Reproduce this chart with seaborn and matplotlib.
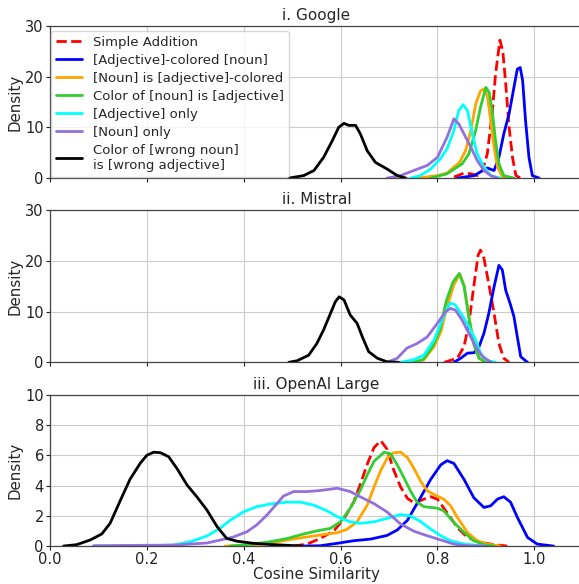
import matplotlib
matplotlib.use("Agg")
import matplotlib.pyplot as plt
import seaborn as sns

sns.set_theme(style="ticks")
plt.rcParams["font.family"] = ["DejaVu Sans"]

LABELS = [
    "Simple Addition",
    "[Adjective]-colored [noun]",
    "[Noun] is [adjective]-colored",
    "Color of [noun] is [adjective]",
    "[Adjective] only",
    "[Noun] only",
    "Color of [wrong noun]\nis [wrong adjective]",
]
COLORS = ["red", "blue", "orange", "limegreen", "cyan", "mediumpurple", "black"]
STYLES = ["--", "-", "-", "-", "-", "-", "-"]

# i. Google
g_add_x = [0.834, 0.855, 0.869, 0.882, 0.893, 0.903, 0.913, 0.920, 0.929, 0.935, 0.941, 0.948, 0.955, 0.962, 0.972]
g_add_y = [0.2, 1.0, 0.85, 0.5, 1.5, 4.8, 12.7, 20.5, 27.2, 25.0, 18.6, 10.0, 4.1, 0.5, 0.0]
g_adjcol_x = [0.841, 0.876, 0.890, 0.903, 0.917, 0.927, 0.937, 0.948, 0.958, 0.965, 0.971, 0.976, 0.982, 0.989, 0.996, 1.010]
g_adjcol_y = [0.0, 0.5, 1.3, 2.0, 1.5, 4.1, 8.7, 12.7, 17.9, 21.5, 21.8, 19.2, 11.3, 4.1, 0.5, 0.0]
g_nouncol_x = [0.758, 0.800, 0.820, 0.834, 0.845, 0.858, 0.869, 0.879, 0.889, 0.896, 0.903, 0.910, 0.917, 0.924, 0.934, 0.940]
g_nouncol_y = [0.0, 0.5, 1.0, 2.2, 3.0, 5.4, 9.4, 14.6, 17.2, 17.6, 16.3, 11.3, 6.1, 2.2, 0.3, 0.0]
g_colorof_x = [0.786, 0.820, 0.841, 0.851, 0.865, 0.879, 0.889, 0.900, 0.907, 0.913, 0.920, 0.927, 0.937, 0.958]
g_colorof_y = [0.0, 0.85, 2.2, 2.8, 4.8, 9.4, 14.0, 17.9, 16.9, 13.3, 7.4, 2.8, 0.5, 0.0]
g_adj_x = [0.744, 0.765, 0.786, 0.806, 0.820, 0.834, 0.844, 0.853, 0.862, 0.872, 0.882, 0.896, 0.910, 0.930]
g_adj_y = [0.0, 0.5, 1.8, 3.8, 5.8, 9.4, 13.3, 14.5, 13.3, 8.7, 4.8, 2.2, 0.5, 0.0]
g_noun_x = [0.696, 0.724, 0.751, 0.779, 0.800, 0.820, 0.834, 0.844, 0.855, 0.869, 0.882, 0.896, 0.910, 0.924]
g_noun_y = [0.0, 0.5, 1.5, 2.5, 4.1, 8.1, 11.7, 10.7, 8.7, 6.1, 3.5, 1.5, 0.5, 0.0]
g_wrong_x = [0.493, 0.524, 0.545, 0.565, 0.583, 0.596, 0.607, 0.617, 0.631, 0.641, 0.655, 0.672, 0.696, 0.717, 0.735]
g_wrong_y = [0.0, 0.5, 1.5, 4.1, 7.4, 10.0, 10.8, 10.4, 10.4, 8.7, 5.4, 3.1, 1.8, 0.5, 0.0]

# ii. Mistral
m_add_x = [0.814, 0.841, 0.855, 0.865, 0.875, 0.884, 0.889, 0.896, 0.906, 0.917, 0.927, 0.937, 0.948]
m_add_y = [0.0, 0.8, 3.1, 7.7, 14.9, 21.1, 22.1, 20.5, 15.5, 9.6, 3.7, 0.8, 0.0]
m_adjcol_x = [0.834, 0.848, 0.862, 0.876, 0.886, 0.896, 0.906, 0.917, 0.927, 0.934, 0.941, 0.951, 0.958, 0.965, 0.972, 0.986]
m_adjcol_y = [0.0, 0.8, 1.8, 1.9, 3.1, 5.7, 9.6, 14.9, 19.1, 18.2, 14.2, 11.3, 9.0, 5.0, 1.1, 0.0]
m_nouncol_x = [0.751, 0.772, 0.793, 0.807, 0.820, 0.834, 0.846, 0.855, 0.865, 0.875, 0.886, 0.900]
m_nouncol_y = [0.0, 0.5, 3.1, 6.0, 11.0, 15.3, 17.4, 15.2, 9.0, 3.7, 0.8, 0.0]
m_colorof_x = [0.748, 0.770, 0.790, 0.805, 0.818, 0.832, 0.845, 0.855, 0.865, 0.875, 0.886, 0.900]
m_colorof_y = [0.0, 0.5, 3.1, 6.4, 12.0, 15.8, 17.5, 15.0, 8.8, 3.6, 0.8, 0.0]
m_adj_x = [0.724, 0.751, 0.772, 0.793, 0.807, 0.820, 0.827, 0.837, 0.851, 0.865, 0.879, 0.889, 0.903, 0.920]
m_adj_y = [0.0, 0.5, 1.4, 4.4, 7.7, 10.6, 11.7, 11.3, 9.3, 7.0, 4.4, 1.8, 0.3, 0.0]
m_noun_x = [0.696, 0.717, 0.737, 0.758, 0.779, 0.800, 0.817, 0.827, 0.837, 0.851, 0.865, 0.879, 0.893, 0.910]
m_noun_y = [0.0, 0.8, 2.8, 3.7, 5.0, 7.7, 10.0, 10.6, 10.3, 8.3, 5.7, 3.1, 1.1, 0.1]
m_wrong_x = [0.493, 0.510, 0.534, 0.551, 0.565, 0.579, 0.589, 0.597, 0.607, 0.620, 0.634, 0.645, 0.658, 0.676, 0.696, 0.720]
m_wrong_y = [0.0, 0.3, 1.4, 3.7, 6.4, 9.6, 11.9, 12.9, 12.3, 9.3, 7.7, 5.0, 2.1, 0.8, 0.1, 0.0]

# iii. OpenAI Large
o_add_x = [0.503, 0.531, 0.558, 0.586, 0.607, 0.627, 0.641, 0.655, 0.669, 0.683, 0.696, 0.710, 0.724, 0.738,
           0.752, 0.772, 0.786, 0.800, 0.820, 0.841, 0.862, 0.890, 0.917, 0.944]
o_add_y = [0.0, 0.13, 0.5, 1.0, 1.8, 2.9, 4.1, 5.4, 6.5, 6.96, 6.4, 5.0, 3.9, 3.15,
           2.84, 3.1, 3.26, 3.1, 2.2, 1.23, 0.57, 0.24, 0.09, 0.0]
o_adjcol_x = [0.517, 0.558, 0.593, 0.627, 0.662, 0.696, 0.717, 0.738, 0.765, 0.786, 0.807, 0.820, 0.834,
              0.855, 0.875, 0.896, 0.910, 0.924, 0.937, 0.951, 0.965, 0.986, 1.006, 1.034, 1.040]
o_adjcol_y = [0.0, 0.02, 0.18, 0.35, 0.46, 0.7, 1.06, 1.7, 3.2, 4.4, 5.37, 5.64, 5.46,
              4.4, 3.2, 2.55, 2.66, 3.1, 3.26, 2.9, 1.9, 0.57, 0.13, 0.02, 0.0]
o_nouncol_x = [0.362, 0.420, 0.455, 0.490, 0.524, 0.558, 0.593, 0.613, 0.634, 0.655, 0.669, 0.683, 0.696, 0.710,
               0.724, 0.738, 0.752, 0.765, 0.779, 0.793, 0.813, 0.827, 0.841, 0.862, 0.882, 0.903, 0.930]
o_nouncol_y = [0.0, 0.07, 0.18, 0.4, 0.57, 0.73, 0.88, 1.1, 1.6, 2.7, 3.9, 5.0, 5.8, 6.17,
               6.2, 5.85, 5.1, 4.3, 3.65, 3.4, 3.1, 2.67, 1.9, 0.9, 0.35, 0.13, 0.0]
o_colorof_x = [0.372, 0.420, 0.455, 0.490, 0.524, 0.551, 0.579, 0.600, 0.620, 0.641, 0.655, 0.669, 0.690,
               0.703, 0.717, 0.731, 0.745, 0.758, 0.772, 0.800, 0.813, 0.834, 0.855, 0.875, 0.896, 0.917]
o_colorof_y = [0.0, 0.13, 0.29, 0.5, 0.8, 1.0, 1.17, 1.6, 2.5, 3.7, 4.7, 5.6, 6.2,
               6.1, 5.37, 4.5, 3.6, 2.9, 2.6, 2.5, 2.33, 1.56, 0.9, 0.35, 0.09, 0.0]
o_adj_x = [0.090, 0.200, 0.255, 0.290, 0.324, 0.352, 0.372, 0.400, 0.427, 0.455, 0.490, 0.517, 0.545, 0.572,
           0.593, 0.620, 0.641, 0.669, 0.696, 0.724, 0.745, 0.765, 0.786, 0.807, 0.827, 0.855, 0.890, 0.900]
o_adj_y = [0.0, 0.02, 0.07, 0.29, 0.66, 1.2, 1.7, 2.27, 2.6, 2.78, 2.9, 2.9, 2.7, 2.33,
           1.94, 1.6, 1.5, 1.6, 1.83, 2.08, 1.98, 1.63, 1.12, 0.68, 0.35, 0.13, 0.02, 0.0]
o_noun_x = [0.090, 0.200, 0.255, 0.324, 0.352, 0.379, 0.407, 0.427, 0.448, 0.469, 0.482, 0.503, 0.531,
            0.558, 0.593, 0.620, 0.641, 0.669, 0.696, 0.724, 0.752, 0.779, 0.807, 0.834, 0.862, 0.900]
o_noun_y = [0.02, 0.05, 0.06, 0.2, 0.4, 0.6, 0.95, 1.4, 2.05, 2.82, 3.3, 3.6, 3.6,
            3.67, 3.82, 3.6, 3.25, 2.8, 2.25, 1.45, 0.97, 0.68, 0.4, 0.13, 0.02, 0.0]
o_wrong_x = [0.028, 0.055, 0.083, 0.107, 0.124, 0.145, 0.165, 0.186, 0.200, 0.214, 0.228, 0.245, 0.262,
             0.283, 0.303, 0.324, 0.345, 0.365, 0.386, 0.420, 0.455, 0.490, 0.520]
o_wrong_y = [0.0, 0.09, 0.4, 0.8, 1.5, 3.0, 4.4, 5.46, 6.0, 6.2, 6.17, 5.9, 5.13,
             4.03, 3.26, 2.38, 1.28, 0.5, 0.32, 0.18, 0.1, 0.05, 0.0]

panels = [
    ("i. Google", [(g_add_x, g_add_y), (g_adjcol_x, g_adjcol_y), (g_nouncol_x, g_nouncol_y),
                   (g_colorof_x, g_colorof_y), (g_adj_x, g_adj_y), (g_noun_x, g_noun_y),
                   (g_wrong_x, g_wrong_y)], [0, 10, 20, 30]),
    ("ii. Mistral", [(m_add_x, m_add_y), (m_adjcol_x, m_adjcol_y), (m_nouncol_x, m_nouncol_y),
                     (m_colorof_x, m_colorof_y), (m_adj_x, m_adj_y), (m_noun_x, m_noun_y),
                     (m_wrong_x, m_wrong_y)], [0, 10, 20, 30]),
    ("iii. OpenAI Large", [(o_add_x, o_add_y), (o_adjcol_x, o_adjcol_y), (o_nouncol_x, o_nouncol_y),
                           (o_colorof_x, o_colorof_y), (o_adj_x, o_adj_y), (o_noun_x, o_noun_y),
                           (o_wrong_x, o_wrong_y)], [0, 2, 4, 6, 8, 10]),
]
positions = [
    [0.0864, 0.695, 0.92, 0.2605],
    [0.0864, 0.3796, 0.92, 0.2608],
    [0.0864, 0.065, 0.92, 0.2591],
]

fig = plt.figure(figsize=(5.79, 5.84), dpi=100)
for i, (title, curves, yticks) in enumerate(panels):
    ax = fig.add_axes(positions[i])
    for j, (xs, ys) in enumerate(curves):
        sns.lineplot(x=xs, y=ys, ax=ax, color=COLORS[j], linestyle=STYLES[j],
                     linewidth=2, label=LABELS[j] if i == 0 else None, legend=False)
    ax.set_xlim(0, 1.1)
    ax.set_ylim(yticks[0], yticks[-1])
    ax.set_yticks(yticks)
    ax.set_xticks([0.0, 0.2, 0.4, 0.6, 0.8, 1.0])
    ax.grid(True, color="#cccccc", linewidth=0.8)
    ax.set_axisbelow(True)
    ax.set_title(title, fontsize=11, pad=4)
    ax.set_ylabel("Density", fontsize=10.8, labelpad=2)
    ax.tick_params(labelsize=10.5, length=3, width=0.8, pad=1.5, colors="#222222")
    for side in ["left", "bottom", "top", "right"]:
        ax.spines[side].set_color("#444444")
        ax.spines[side].set_linewidth(0.9)
    if i < 2:
        ax.tick_params(labelbottom=False)
        ax.set_xlabel("")
    else:
        ax.tick_params(axis="x", pad=1)
        ax.set_xlabel("Cosine Similarity", fontsize=10.8, labelpad=0.5)
    if i == 0:
        ax.legend(loc="upper left", bbox_to_anchor=(0.001, 0.97), fontsize=9.5,
                  labelspacing=0.38, borderpad=0.4, handlelength=2.0,
                  borderaxespad=0, framealpha=0.8)

fig.savefig("out.png", dpi=100)
